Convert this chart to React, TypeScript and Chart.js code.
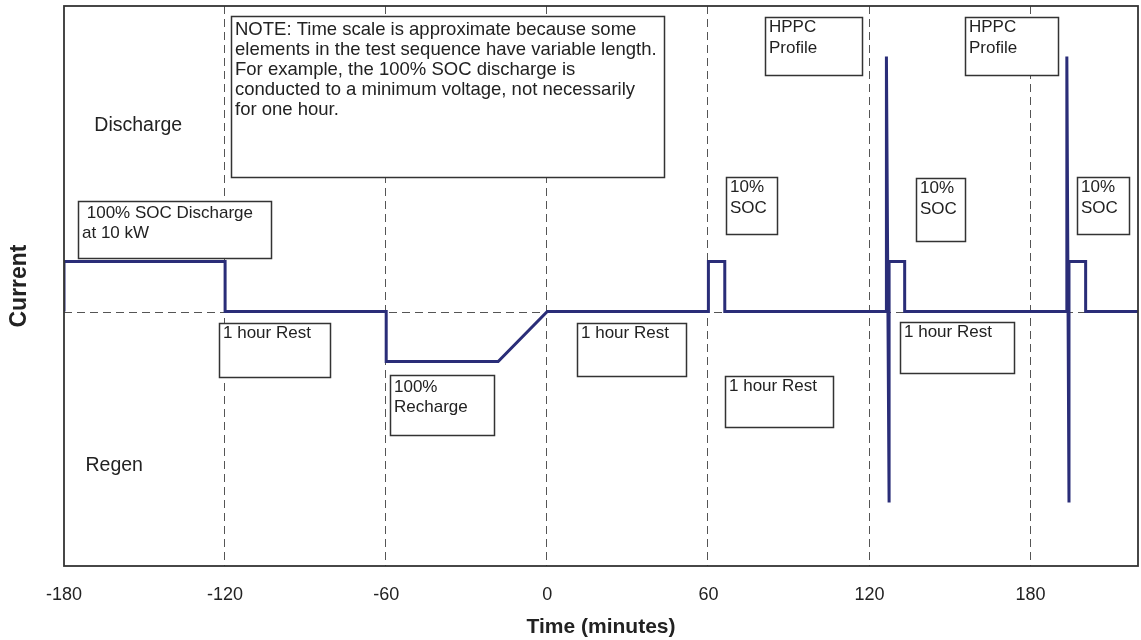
import React, { useEffect, useRef } from 'react';
import { Chart, registerables } from 'chart.js';

Chart.register(...registerables);

// ---- data ----
const timeMinutes = [
  -180, -180, -120, -120, -60, -60, -18.3, 0, 60, 60, 66.1, 66.1,
  126.3, 126.3, 127.3, 127.3, 133.1, 133.1,
  193.5, 193.5, 194.3, 194.3, 200.5, 200.5, 220,
];
const currentLevel = [
  0, 1, 1, 0, 0, -1, -1, 0, 0, 1, 1, 0,
  0, 5.1, -3.82, 1, 1, 0,
  0, 5.1, -3.82, 1, 1, 0, 0,
];
const xTickValues = [-180, -120, -60, 0, 60, 120, 180];
const gridTimes = [-120, -60, 0, 60, 120, 180];
const xMin = -180;
const xMax = 220;
const yMin = -5.09;
const yMax = 6.11;
const xTitle = 'Time (minutes)';
const yTitle = 'Current';

const noteLines = [
  'NOTE: Time scale is approximate because some',
  'elements in the test sequence have variable length.',
  'For example, the 100% SOC discharge is',
  'conducted to a minimum voltage, not necessarily',
  'for one hour.',
];

// ---- annotations (in data coordinates) ----
type Box = {
  x1: number; x2: number; y1: number; y2: number;
  lines: string[]; size: number; first: number; gap: number;
};
const boxes: Box[] = [
  { x1: -117.8, x2: 43.4, y1: 5.91, y2: 2.69, lines: noteLines, size: 18.5, first: 13, gap: 20 },
  { x1: -174.8, x2: -102.9, y1: 2.21, y2: 1.07, lines: [' 100% SOC Discharge', 'at 10 kW'], size: 17, first: 12, gap: 20 },
  { x1: -122.3, x2: -81.0, y1: -0.23, y2: -1.31, lines: ['1 hour Rest'], size: 17, first: 10, gap: 20 },
  { x1: -58.6, x2: -19.9, y1: -1.27, y2: -2.47, lines: ['100%', 'Recharge'], size: 17, first: 12, gap: 20 },
  { x1: 11.0, x2: 51.6, y1: -0.23, y2: -1.29, lines: ['1 hour Rest'], size: 17, first: 10, gap: 20 },
  { x1: 66.1, x2: 106.3, y1: -1.29, y2: -2.31, lines: ['1 hour Rest'], size: 17, first: 10, gap: 20 },
  { x1: 131.2, x2: 174.0, y1: -0.21, y2: -1.23, lines: ['1 hour Rest'], size: 17, first: 10, gap: 20 },
  { x1: 81.0, x2: 117.1, y1: 5.89, y2: 4.73, lines: ['HPPC', 'Profile'], size: 17, first: 10, gap: 21 },
  { x1: 155.4, x2: 190.1, y1: 5.89, y2: 4.73, lines: ['HPPC', 'Profile'], size: 17, first: 10, gap: 21 },
  { x1: 66.5, x2: 85.4, y1: 2.69, y2: 1.55, lines: ['10%', 'SOC'], size: 17, first: 10, gap: 21 },
  { x1: 137.5, x2: 155.4, y1: 2.67, y2: 1.41, lines: ['10%', 'SOC'], size: 17, first: 10, gap: 21 },
  { x1: 197.1, x2: 216.5, y1: 2.69, y2: 1.55, lines: ['10%', 'SOC'], size: 17, first: 10, gap: 21 },
];
const freeLabels = [
  { text: 'Discharge', x: -168.7, y: 3.71, size: 19.5 },
  { text: 'Regen', x: -172.0, y: -3.09, size: 19.5 },
];

const FONT = "'Liberation Sans', Arial, Helvetica, sans-serif";

const overlayPlugin = {
  id: 'overlay',
  beforeDatasetsDraw(chart: any) {
    const { ctx, chartArea: a, scales } = chart;
    const xs = scales.x;
    const ys = scales.y;
    ctx.save();
    ctx.beginPath();
    ctx.rect(a.left, a.top, a.right - a.left, a.bottom - a.top);
    ctx.clip();
    // dashed grid
    ctx.strokeStyle = '#555';
    ctx.lineWidth = 1;
    ctx.setLineDash([8, 5]);
    gridTimes.forEach((t) => {
      const px = Math.round(xs.getPixelForValue(t)) - 0.5;
      ctx.beginPath();
      ctx.moveTo(px, a.top);
      ctx.lineTo(px, a.bottom);
      ctx.stroke();
    });
    const py0 = Math.round(ys.getPixelForValue(0)) + 0.5;
    ctx.beginPath();
    ctx.moveTo(a.left, py0);
    ctx.lineTo(a.right, py0);
    ctx.stroke();
    ctx.setLineDash([]);

    // boxes
    boxes.forEach((b) => {
      const l = Math.round(xs.getPixelForValue(b.x1)) + 0.5;
      const r = Math.round(xs.getPixelForValue(b.x2)) + 0.5;
      const t = Math.round(ys.getPixelForValue(b.y1)) + 0.5;
      const bt = Math.round(ys.getPixelForValue(b.y2)) + 0.5;
      ctx.fillStyle = '#ffffff';
      ctx.fillRect(l, t, r - l, bt - t);
      ctx.strokeStyle = '#333';
      ctx.lineWidth = 1.5;
      ctx.strokeRect(l, t, r - l, bt - t);
      ctx.fillStyle = '#222';
      ctx.font = `${b.size}px ${FONT}`;
      ctx.textAlign = 'left';
      ctx.textBaseline = 'middle';
      b.lines.forEach((line, i) => {
        ctx.fillText(line, l + 3.5, t + b.first + i * b.gap);
      });
    });

    freeLabels.forEach((f) => {
      ctx.fillStyle = '#222';
      ctx.font = `${f.size}px ${FONT}`;
      ctx.textAlign = 'left';
      ctx.textBaseline = 'middle';
      ctx.fillText(f.text, xs.getPixelForValue(f.x), ys.getPixelForValue(f.y));
    });
    ctx.restore();
  },
  afterDatasetsDraw(chart: any) {
    const { ctx, chartArea: a } = chart;
    ctx.save();
    ctx.strokeStyle = '#333';
    ctx.lineWidth = 1.8;
    ctx.strokeRect(a.left, a.top, a.right - a.left, a.bottom - a.top);
    ctx.restore();
  },
};

export default function App() {
  const ref = useRef<HTMLCanvasElement | null>(null);

  useEffect(() => {
    if (!ref.current) return;
    const chart = new Chart(ref.current, {
      type: 'line',
      data: {
        datasets: [
          {
            data: timeMinutes.map((t, i) => ({ x: t, y: currentLevel[i] })),
            borderColor: '#2a2d78',
            borderWidth: 3,
            pointRadius: 0,
            tension: 0,
            fill: false,
            borderJoinStyle: 'miter',
            borderCapStyle: 'butt',
          },
        ],
      },
      options: {
        animation: false,
        responsive: false,
        events: [],
        layout: { padding: { top: 6, right: 3, left: 0, bottom: 0 } },
        plugins: {
          legend: { display: false },
          tooltip: { enabled: false },
        },
        scales: {
          x: {
            type: 'linear',
            min: xMin,
            max: xMax,
            afterBuildTicks: (s: any) => {
              s.ticks = xTickValues.map((v) => ({ value: v }));
            },
            afterFit: (s: any) => {
              s.height = 74;
            },
            ticks: {
              font: { family: FONT, size: 18 },
              color: '#222',
              padding: 18,
              maxRotation: 0,
              autoSkip: false,
            },
            grid: { display: false, drawTicks: false },
            border: { display: false },
            title: {
              display: true,
              text: xTitle,
              color: '#222',
              font: { family: FONT, size: 21, weight: 'bold' },
              padding: { top: 0, bottom: 0 },
            },
          },
          y: {
            type: 'linear',
            min: yMin,
            max: yMax,
            afterFit: (s: any) => {
              s.width = 64;
            },
            ticks: { display: false },
            grid: { display: false, drawTicks: false },
            border: { display: false },
            title: {
              display: true,
              text: yTitle,
              color: '#222',
              font: { family: FONT, size: 23, weight: 'bold' },
              padding: { top: 6, bottom: 0 },
            },
          },
        },
      },
      plugins: [overlayPlugin],
    } as any);
    return () => chart.destroy();
  }, []);

  return (
    <div style={{ position: 'absolute', left: 0, top: 0, width: 1141, height: 640, background: '#fff' }}>
      <canvas ref={ref} width={1141} height={640} style={{ display: 'block' }} />
    </div>
  );
}
